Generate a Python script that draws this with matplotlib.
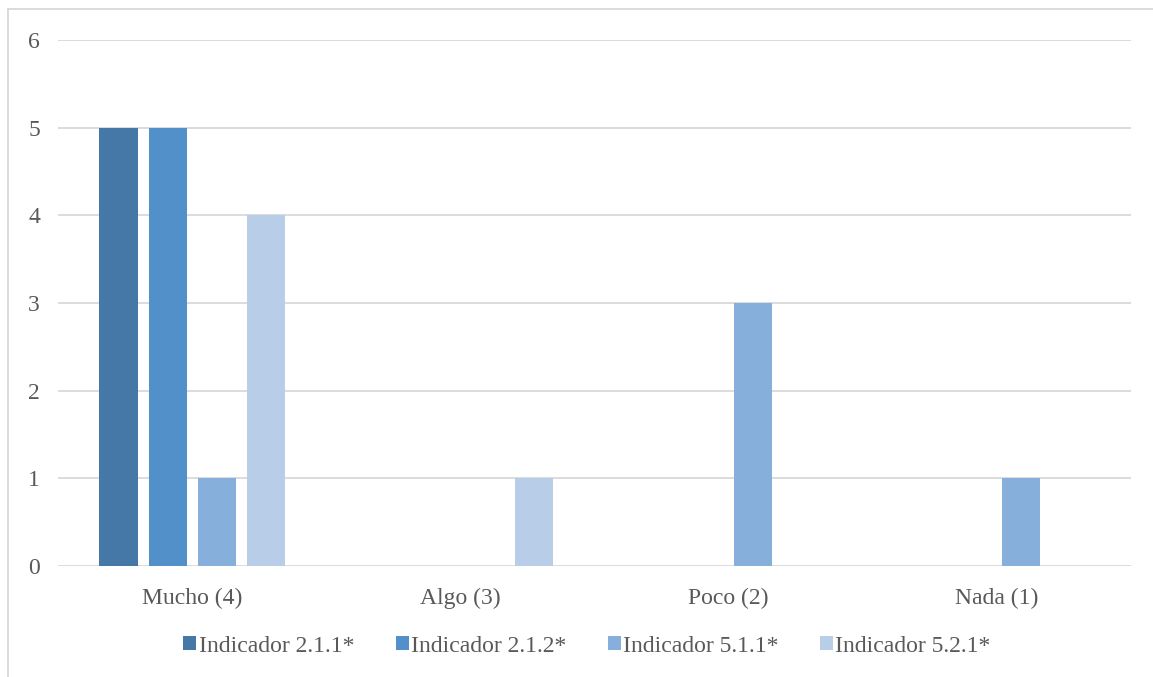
import matplotlib
matplotlib.use("Agg")
import matplotlib.pyplot as plt
import numpy as np
from matplotlib.lines import Line2D

categories = ["Mucho (4)", "Algo (3)", "Poco (2)", "Nada (1)"]
series_names = ["Indicador 2.1.1*", "Indicador 2.1.2*", "Indicador 5.1.1*", "Indicador 5.2.1*"]
ind_211 = [5, 0, 0, 0]
ind_212 = [5, 0, 0, 0]
ind_511 = [1, 0, 3, 1]
ind_521 = [4, 1, 0, 0]
y_ticks = [0, 1, 2, 3, 4, 5, 6]

colors = ["#4578A7", "#5290C9", "#86AFDC", "#B8CEE8"]
series = [ind_211, ind_212, ind_511, ind_521]

plt.rcParams['font.family'] = ['Liberation Serif', 'DejaVu Serif']
fig = plt.figure(figsize=(11.53, 6.77), dpi=100)
ax = fig.add_axes([58/1153, 1-566/677, (1131-58)/1153, (566-40)/677])

x = np.arange(len(categories))
step = 0.183
width = 0.142
for i, (vals, name, c) in enumerate(zip(series, series_names, colors)):
    ax.bar(x + (i - 1.5) * step, vals, width, color=c, label=name, zorder=3)

ax.set_xlim(-0.5, 3.5)
ax.set_ylim(0, 6)
ax.set_yticks(y_ticks)
ax.set_xticks(x)
ax.set_xticklabels(categories)
ax.grid(axis='y', color='#D9D9D9', linewidth=1.3, zorder=0)
for s in ax.spines.values():
    s.set_visible(False)
ax.tick_params(axis='both', length=0, labelsize=17, colors='#595959')
ax.tick_params(axis='x', pad=16)
ax.tick_params(axis='y', pad=13)

leg = fig.legend(loc='center', bbox_to_anchor=(587/1153, 1-646/677), ncol=4, frameon=False,
                 fontsize=17, handlelength=0.55, handleheight=0.55, handletextpad=0.1,
                 columnspacing=1.75, labelcolor='#595959')

fig.add_artist(Line2D([8/1153, 8/1153], [0, 1-9/677], transform=fig.transFigure, color='#D9D9D9', lw=1.3))
fig.add_artist(Line2D([8/1153, 1], [1-9/677, 1-9/677], transform=fig.transFigure, color='#D9D9D9', lw=1.3))

fig.savefig("out.png", dpi=100)
